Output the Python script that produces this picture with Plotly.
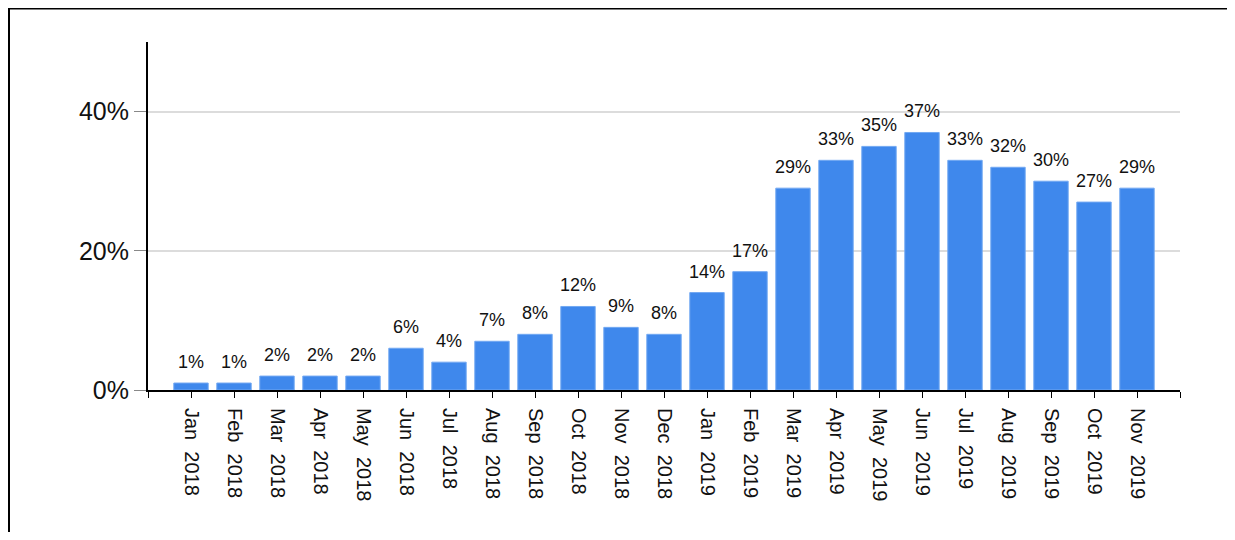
import plotly.graph_objects as go

months = ["Jan 2018", "Feb 2018", "Mar 2018", "Apr 2018", "May 2018", "Jun 2018",
          "Jul 2018", "Aug 2018", "Sep 2018", "Oct 2018", "Nov 2018", "Dec 2018",
          "Jan 2019", "Feb 2019", "Mar 2019", "Apr 2019", "May 2019", "Jun 2019",
          "Jul 2019", "Aug 2019", "Sep 2019", "Oct 2019", "Nov 2019"]
values = [1, 1, 2, 2, 2, 6, 4, 7, 8, 12, 9, 8, 14, 17, 29, 33, 35, 37, 33, 32, 30, 27, 29]
y_ticks = [0, 20, 40]
y_tick_labels = ["0%", "20%", "40%"]

xs = list(range(len(months)))
tick_text = [""] + [m.replace(" ", "\u00a0\u00a0") for m in months] + [""]
tick_vals = [-1] + xs + [len(months)]

FONT = "Liberation Sans, Arial, sans-serif"

W, H = 1227, 524
L, T, R, B = 140, 34, 55, 142
PW, PH = W - L - R, H - T - B

fig = go.Figure()
fig.add_trace(go.Bar(
    x=xs, y=values,
    marker=dict(color="#3f88ec", line=dict(color="#72a8f2", width=1)),
    hoverinfo="skip",
))

for x, v in zip(xs, values):
    fig.add_annotation(x=x, y=v, text=f"{v}%", showarrow=False, yanchor="bottom",
                       yshift=9, font=dict(family=FONT, size=18, color="#111111"))

fig.update_layout(
    width=W, height=H,
    margin=dict(l=L, r=R, t=T, b=B),
    paper_bgcolor="white", plot_bgcolor="white",
    showlegend=False, bargap=0.2,
    font=dict(family=FONT, color="#111111"),
)
fig.update_xaxes(
    range=[-1, len(months)], tickmode="array", tickvals=tick_vals, ticktext=tick_text,
    tickangle=90, tickfont=dict(size=20, family=FONT, color="#111111"),
    ticklabelstandoff=6,
    showgrid=False, zeroline=False, showline=True, linecolor="black", linewidth=2,
    ticks="outside", ticklen=6, tickcolor="black", tickwidth=1,
)
fig.update_yaxes(
    range=[0, 50], tickmode="array", tickvals=y_ticks, ticktext=y_tick_labels,
    tickfont=dict(size=25, family=FONT, color="#111111"),
    showgrid=True, gridcolor="#dcdcdc", gridwidth=2, zeroline=False,
    showline=True, linecolor="black", linewidth=2,
    ticks="outside", ticklen=12, tickcolor="#888888", tickwidth=1,
)
fig.add_shape(type="rect", xref="paper", yref="paper",
              x0=(1 - L) / PW, x1=(1225 - L) / PW,
              y0=(T + PH - (H + 20)) / PH, y1=(T + PH - 0.5) / PH,
              line=dict(color="black", width=2), fillcolor="rgba(0,0,0,0)", layer="above")

fig.write_html("out.html")
